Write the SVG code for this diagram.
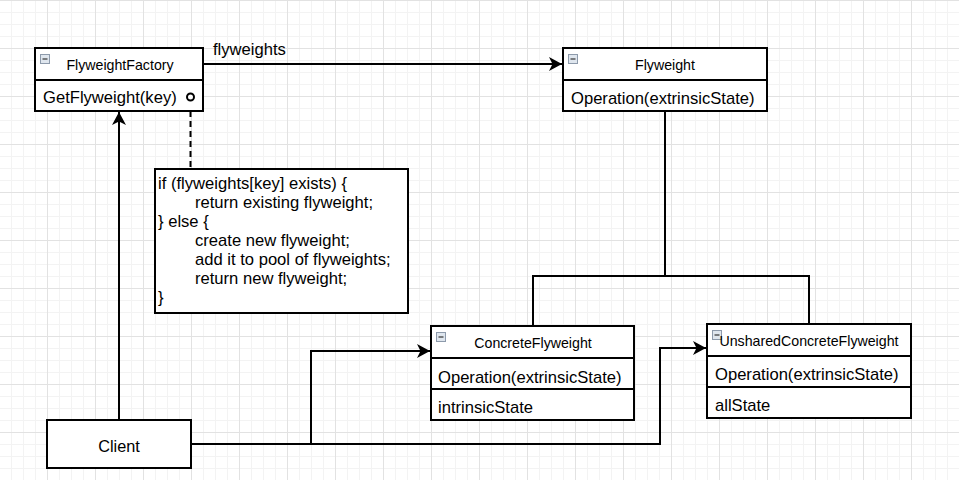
<svg xmlns="http://www.w3.org/2000/svg" width="959" height="480" viewBox="0 0 959 480">
<style>
.box{fill:#fff;stroke:#000;stroke-width:2}
.div{stroke:#000;stroke-width:2;fill:none}
.ln{stroke:#000;stroke-width:2;fill:none}
.hd{font-family:"Liberation Sans",Arial,sans-serif;font-size:14.2px;fill:#000;text-anchor:middle}
.mb{font-family:"Liberation Sans",Arial,sans-serif;font-size:16.6px;fill:#000}
.ic{fill:#dfe6ee;stroke:#8d9aab;stroke-width:1}
.icm{stroke:#333;stroke-width:1.2}
</style>
<defs>
<pattern id="grid" width="48" height="48" patternUnits="userSpaceOnUse" x="-1" y="0">
<path d="M12.5 0V48M24.5 0V48M36.5 0V48M0 12.5H48M0 24.5H48M0 36.5H48" stroke="#f3f3f3" stroke-width="1" fill="none"/>
<path d="M0.5 0V48M0 0.5H48" stroke="#e2e2e2" stroke-width="1" fill="none"/>
</pattern>
<marker id="arr" viewBox="-14 -8 15 16" refX="0" refY="0" markerWidth="15" markerHeight="16" markerUnits="userSpaceOnUse" orient="auto">
<path d="M0 0L-13 -7L-9.5 0L-13 7Z" fill="#000"/>
</marker>
</defs>
<rect x="0" y="0" width="959" height="480" fill="#fff"/>
<rect x="0" y="0" width="959" height="480" fill="url(#grid)"/>

<g id="connectors">
<line class="ln" x1="203" y1="64" x2="562" y2="64" marker-end="url(#arr)"/>
<line class="ln" x1="119" y1="420" x2="119" y2="112" marker-end="url(#arr)"/>
<line class="ln" x1="190.5" y1="101" x2="190.5" y2="169" stroke-dasharray="6 4"/>
<polyline class="ln" points="665,111 665,276"/>
<polyline class="ln" points="533,327 533,276 809,276 809,324"/>
<polyline class="ln" points="191,444 311,444 311,351 430,351" marker-end="url(#arr)"/>
<polyline class="ln" points="191,444 660,444 660,348 706,348" marker-end="url(#arr)"/>
<text class="mb" x="213" y="55">flyweights</text>
</g>

<g id="FlyweightFactory">
<rect class="box" x="35" y="48" width="168" height="63"/>
<line class="div" x1="35" y1="80" x2="203" y2="80"/>
<rect class="ic" x="40.5" y="54.5" width="9" height="9"/>
<line class="icm" x1="42.5" y1="59" x2="47.5" y2="59"/>
<text class="hd" x="120" y="70">FlyweightFactory</text>
<text class="mb" x="43" y="103">GetFlyweight(key)</text>
<circle cx="190.5" cy="97" r="3.5" fill="#fff" stroke="#000" stroke-width="2"/>
</g>

<g id="Flyweight">
<rect class="box" x="563" y="48" width="204" height="63"/>
<line class="div" x1="563" y1="80" x2="767" y2="80"/>
<rect class="ic" x="568.5" y="54.5" width="9" height="9"/>
<line class="icm" x1="570.5" y1="59" x2="575.5" y2="59"/>
<text class="hd" x="665" y="70">Flyweight</text>
<text class="mb" x="571" y="104">Operation(extrinsicState)</text>
</g>

<g id="note">
<rect class="box" x="155" y="169" width="253" height="144"/>
<text class="mb" x="158" y="189">if (flyweights[key] exists) {</text>
<text class="mb" x="195" y="208">return existing flyweight;</text>
<text class="mb" x="158" y="227">} else {</text>
<text class="mb" x="195" y="246">create new flyweight;</text>
<text class="mb" x="195" y="265">add it to pool of flyweights;</text>
<text class="mb" x="195" y="284">return new flyweight;</text>
<text class="mb" x="158" y="303">}</text>
</g>

<g id="ConcreteFlyweight">
<rect class="box" x="431" y="326" width="203" height="94"/>
<line class="div" x1="431" y1="358" x2="634" y2="358"/>
<line class="div" x1="431" y1="389" x2="634" y2="389"/>
<rect class="ic" x="436.5" y="332.5" width="9" height="9"/>
<line class="icm" x1="438.5" y1="337" x2="443.5" y2="337"/>
<text class="hd" x="533" y="348">ConcreteFlyweight</text>
<text class="mb" x="438" y="383">Operation(extrinsicState)</text>
<text class="mb" x="438" y="413">intrinsicState</text>
</g>

<g id="UnsharedConcreteFlyweight">
<rect class="box" x="707" y="324" width="204" height="94"/>
<line class="div" x1="707" y1="356" x2="911" y2="356"/>
<line class="div" x1="707" y1="387" x2="911" y2="387"/>
<rect class="ic" x="712.5" y="330.5" width="9" height="9"/>
<line class="icm" x1="714.5" y1="335" x2="719.5" y2="335"/>
<text class="hd" x="809" y="346">UnsharedConcreteFlyweight</text>
<text class="mb" x="715" y="380">Operation(extrinsicState)</text>
<text class="mb" x="715" y="411">allState</text>
</g>

<g id="Client">
<rect class="box" x="47" y="420" width="144" height="48"/>
<text class="mb" x="119" y="452" text-anchor="middle" style="font-size:16.3px">Client</text>
</g>
</svg>
